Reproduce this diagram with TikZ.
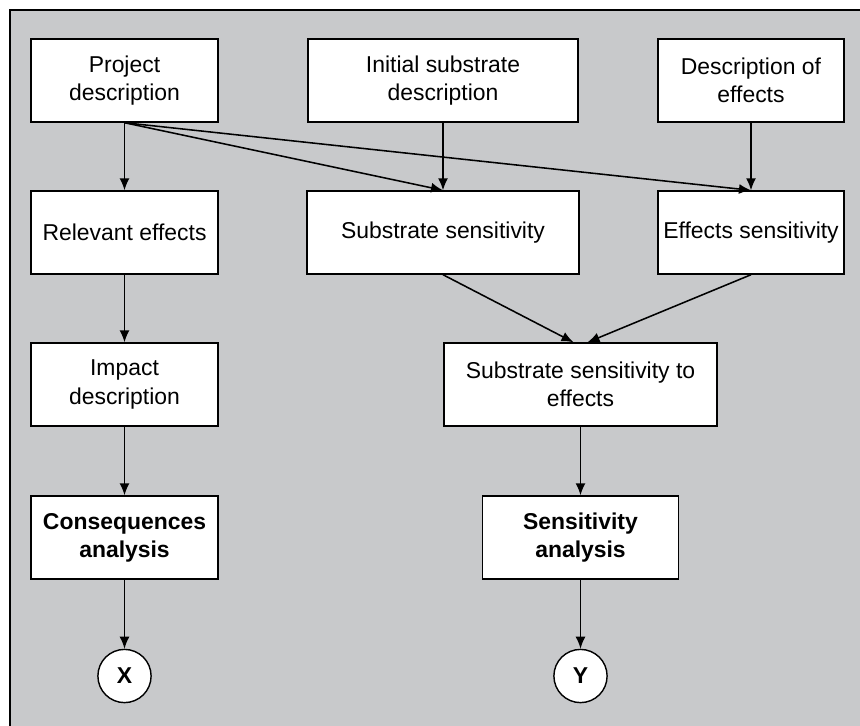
\documentclass[tikz,border=0pt]{standalone}
\usepackage{fontspec}
\setmainfont{Liberation Sans}
\usepackage{xcolor}
\usetikzlibrary{positioning,calc,arrows.meta}
\definecolor{panelgrey}{RGB}{200,201,203}

\begin{document}
\begin{tikzpicture}[x=0.025cm, y=-0.025cm,
    box/.style={draw, line width=1pt, fill=white, align=center, inner sep=0pt,
        minimum height=2.075cm, font=\fontsize{16.3}{20}\selectfont},
    boldbox/.style={box, font=\fontsize{16.3}{20}\selectfont\bfseries},
    endpoint/.style={draw, circle, line width=1pt, fill=white, minimum size=1.33cm,
        inner sep=0pt, font=\fontsize{16.3}{20}\selectfont\bfseries},
    flow/.style={line width=1.1pt, -{Latex[length=3mm,width=2.5mm]}}]
    % Panel
    \clip (0,0) rectangle (860,725);
    \draw[line width=1pt, fill=panelgrey] (10,10) rectangle (875,740);

    % Top row
    \node[box, minimum width=4.675cm] (proj) at (124.5,80.5) {Project\\description};
    \node[box, minimum width=6.75cm] (init) at (443,80.5) {Initial substrate\\description};
    \node[box, minimum width=4.65cm] (deseff) at (751,80.5) {Description of\\effects};

    % Second row
    \node[box, minimum width=4.675cm] (releff) at (124.5,232.5) {Relevant effects};
    \node[box, minimum width=6.8cm] (subsens) at (443,232.5) {Substrate sensitivity};
    \node[box, minimum width=4.65cm] (effsens) at (751,232.5) {Effects sensitivity};

    % Third row
    \node[box, minimum width=4.675cm] (impact) at (124.5,384.5) {Impact\\description};
    \node[box, minimum width=6.825cm] (subeff) at (580.5,384.5) {Substrate sensitivity to\\effects};

    % Analyses
    \node[boldbox, minimum width=4.675cm] (cons) at (124.5,537.5) {Consequences\\analysis};
    \node[boldbox, minimum width=4.9cm] (sensan) at (580.5,537.5) {Sensitivity\\analysis};
    \node[endpoint] (X) at (124.5,676) {X};
    \node[endpoint] (Y) at (580.5,676) {Y};

    % Connectors
    \draw[flow] (proj.south) -- (releff.north);
    \draw[flow] (proj.south) -- (subsens.north);
    \draw[flow] (proj.south) -- (effsens.north);
    \draw[flow] (init.south) -- (subsens.north);
    \draw[flow] (deseff.south) -- (effsens.north);
    \draw[flow] (releff.south) -- (impact.north);
    \draw[flow] (impact.south) -- (cons.north);
    \draw[flow] (subsens.south) -- ($(subeff.north)+(-7,0)$);
    \draw[flow] (effsens.south) -- ($(subeff.north)+(7,0)$);
    \draw[flow] (subeff.south) -- (sensan.north);
    \draw[flow] (cons.south) -- (X.north);
    \draw[flow] (sensan.south) -- (Y.north);
\end{tikzpicture}
\end{document}
